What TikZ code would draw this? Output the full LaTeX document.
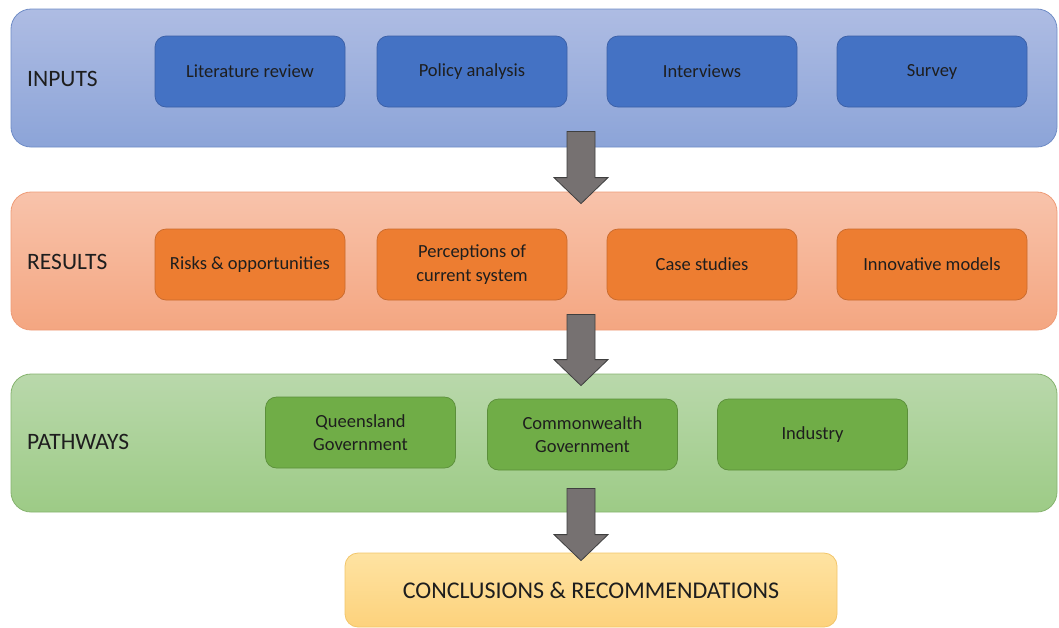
\documentclass[tikz,border=0pt]{standalone}
\usepackage{fontspec}
\setmainfont{Carlito}
\usetikzlibrary{calc}
\definecolor{txt}{HTML}{1E1E1E}
\definecolor{blueTop}{HTML}{AEBCE3}
\definecolor{blueBot}{HTML}{8CA4D8}
\definecolor{blueEdge}{HTML}{6F8CC6}
\definecolor{blueBox}{HTML}{4472C4}
\definecolor{blueBoxEdge}{HTML}{3A5FA6}
\definecolor{orTop}{HTML}{F8C3AB}
\definecolor{orBot}{HTML}{F4A681}
\definecolor{orEdge}{HTML}{EE9C78}
\definecolor{orBox}{HTML}{ED7D31}
\definecolor{orBoxEdge}{HTML}{C96A2C}
\definecolor{grTop}{HTML}{B9D8AB}
\definecolor{grBot}{HTML}{9DCB86}
\definecolor{grEdge}{HTML}{86B36F}
\definecolor{grBox}{HTML}{70AD47}
\definecolor{grBoxEdge}{HTML}{5B8F3A}
\definecolor{ylTop}{HTML}{FEE3A2}
\definecolor{ylBot}{HTML}{FDD27C}
\definecolor{ylEdge}{HTML}{F2C56A}
\definecolor{arrowFill}{HTML}{767171}
\definecolor{arrowEdge}{HTML}{3F3F3F}
\begin{document}
\begin{tikzpicture}[x=1pt,y=-1pt,
  band/.style={rounded corners=20pt, line width=0.8pt, minimum width=1046pt, minimum height=138pt, inner sep=0pt},
  bandlabel/.style={anchor=west, font=\fontsize{23.5}{26}\selectfont, text=txt, inner sep=0pt},
  item/.style={rounded corners=11pt, line width=0.7pt, minimum width=190pt, minimum height=71pt, inner sep=2pt,
    align=center, font=\fontsize{18.5}{23.5}\selectfont, text=txt},
  bluebox/.style={item, fill=blueBox, draw=blueBoxEdge},
  orangebox/.style={item, fill=orBox, draw=orBoxEdge},
  greenbox/.style={item, fill=grBox, draw=grBoxEdge},
  blockarrow/.style={fill=arrowFill, draw=arrowEdge, line width=0.8pt, line join=miter}
]
\useasboundingbox (0,0) rectangle (1059,627);

% stage bands
\node[band, top color=blueTop, bottom color=blueBot, draw=blueEdge] (inputs) at (534,78) {};
\node[band, top color=orTop, bottom color=orBot, draw=orEdge] (results) at (534,261) {};
\node[band, top color=grTop, bottom color=grBot, draw=grEdge] (pathways) at (534,443) {};

\node[bandlabel] (inlbl) at (27,79) {INPUTS};
\node[bandlabel] (reslbl) at (27,262) {RESULTS};
\node[bandlabel] (pathlbl) at (27,442) {PATHWAYS};

% inputs
\node[bluebox] (lit) at (250,71.5) {Literature review};
\node[bluebox] (pol) at (472,71.5) {Policy analysis};
\node[bluebox] (int) at (702,71.5) {Interviews};
\node[bluebox] (sur) at (932,71.5) {Survey};

% results
\node[orangebox] (risk) at (250,264.5) {Risks \& opportunities};
\node[orangebox] (perc) at (472,264.5) {Perceptions of\\current system};
\node[orangebox] (case) at (702,264.5) {Case studies};
\node[orangebox] (innov) at (932,264.5) {Innovative models};

% pathways
\node[greenbox] (qld) at (360.5,432.5) {Queensland\\Government};
\node[greenbox] (cwth) at (582.5,434.5) {Commonwealth\\Government};
\node[greenbox] (ind) at (812.5,434.5) {Industry};

% final box
\node[rounded corners=13pt, line width=0.8pt, top color=ylTop, bottom color=ylBot, draw=ylEdge,
  minimum width=492pt, minimum height=74pt, inner sep=0pt,
  font=\fontsize{24}{26}\selectfont, text=txt] (concl) at (591,590) {CONCLUSIONS \& RECOMMENDATIONS};

% block arrows between stages
\coordinate (a1s) at ($(inputs.south)+(47,-16)$);
\coordinate (a1e) at ($(results.north)+(47,12)$);
\coordinate (a2s) at ($(results.south)+(47,-16)$);
\coordinate (a2e) at ($(pathways.north)+(47,12)$);
\coordinate (a3s) at ($(pathways.south)+(47,-24)$);
\coordinate (a3e) at ($(concl.north)+(-10,8)$);
\foreach \s/\e in {a1s/a1e, a2s/a2e, a3s/a3e}{
  \draw[blockarrow] ($(\s)+(-14,0)$) -- ($(\e)+(-14,-26)$) -- ($(\e)+(-27,-26)$) -- (\e)
    -- ($(\e)+(27,-26)$) -- ($(\e)+(14,-26)$) -- ($(\s)+(14,0)$) -- cycle;
}
\end{tikzpicture}
\end{document}
